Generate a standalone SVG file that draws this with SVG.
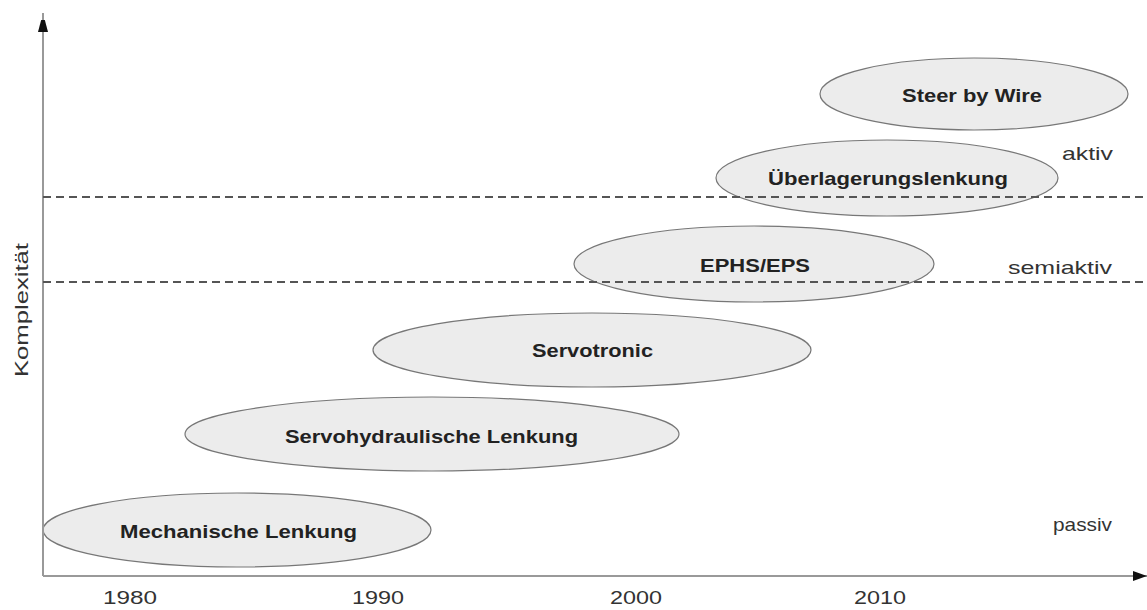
<svg xmlns="http://www.w3.org/2000/svg" width="1147" height="610" viewBox="0 0 1147 610">
<style>
.n{fill:#ececec;stroke:#777;stroke-width:1.2}
.t{font-family:"Liberation Sans",Arial,sans-serif;font-weight:bold;font-size:19px;fill:#222;text-anchor:middle}
.l{font-family:"Liberation Sans",Arial,sans-serif;font-size:19px;fill:#333}
.ax{stroke:#999;stroke-width:2;fill:none}
.d{stroke:#555;stroke-width:2;stroke-dasharray:8,5;fill:none}
</style>
<defs>
<marker id="ahv" markerWidth="12" markerHeight="22" refX="19" refY="5.5" orient="auto" markerUnits="userSpaceOnUse">
<path d="M0,0.5 L19,5.5 L0,10.5 Z" fill="#111"/>
</marker>
<marker id="ahh" markerWidth="16" markerHeight="12" refX="14" refY="5" orient="auto" markerUnits="userSpaceOnUse">
<path d="M0,0 L14,5 L0,10 Z" fill="#111"/>
</marker>
</defs>
<rect width="1147" height="610" fill="#fff"/>
<g id="mechanisch"><ellipse class="n" cx="237" cy="530" rx="194" ry="37"/><text class="t" x="238.5" y="538" textLength="237" lengthAdjust="spacingAndGlyphs">Mechanische Lenkung</text></g>
<g id="servohydraulisch"><ellipse class="n" cx="432" cy="434" rx="247" ry="37"/><text class="t" x="431.5" y="443" textLength="293" lengthAdjust="spacingAndGlyphs">Servohydraulische Lenkung</text></g>
<g id="servotronic"><ellipse class="n" cx="592" cy="350" rx="219" ry="37"/><text class="t" x="592.5" y="357" textLength="121" lengthAdjust="spacingAndGlyphs">Servotronic</text></g>
<g id="ephs"><ellipse class="n" cx="754" cy="264" rx="180" ry="38"/><text class="t" x="755" y="272" textLength="110" lengthAdjust="spacingAndGlyphs">EPHS/EPS</text></g>
<g id="ueberlagerung"><ellipse class="n" cx="887" cy="178" rx="171" ry="38"/><text class="t" x="888" y="185" textLength="240" lengthAdjust="spacingAndGlyphs">Überlagerungslenkung</text></g>
<g id="steerbywire"><ellipse class="n" cx="974" cy="94" rx="154" ry="36"/><text class="t" x="972" y="102" textLength="140" lengthAdjust="spacingAndGlyphs">Steer by Wire</text></g>
<g id="connectors">
<line class="ax" x1="43" y1="576" x2="43" y2="13" marker-end="url(#ahv)"/>
<line class="ax" x1="43" y1="576" x2="1147" y2="576" marker-end="url(#ahh)"/>
<line class="d" x1="43" y1="197" x2="1147" y2="197"/>
<line class="d" x1="43" y1="282" x2="1147" y2="282"/>
</g>
<g id="labels">
<text class="l" x="130" y="604" text-anchor="middle" textLength="54" lengthAdjust="spacingAndGlyphs">1980</text>
<text class="l" x="378" y="604" text-anchor="middle" textLength="52" lengthAdjust="spacingAndGlyphs">1990</text>
<text class="l" x="636" y="604" text-anchor="middle" textLength="52" lengthAdjust="spacingAndGlyphs">2000</text>
<text class="l" x="880" y="604" text-anchor="middle" textLength="52" lengthAdjust="spacingAndGlyphs">2010</text>
<text class="l" x="1087.5" y="160" text-anchor="middle" textLength="51" lengthAdjust="spacingAndGlyphs">aktiv</text>
<text class="l" x="1060" y="274" text-anchor="middle" textLength="104" lengthAdjust="spacingAndGlyphs">semiaktiv</text>
<text class="l" x="1082.5" y="531" text-anchor="middle" textLength="59" lengthAdjust="spacingAndGlyphs">passiv</text>
<text class="l" x="0" y="0" text-anchor="middle" textLength="134" lengthAdjust="spacingAndGlyphs" transform="translate(28,310) rotate(-90)">Komplexität</text>
</g>
</svg>
